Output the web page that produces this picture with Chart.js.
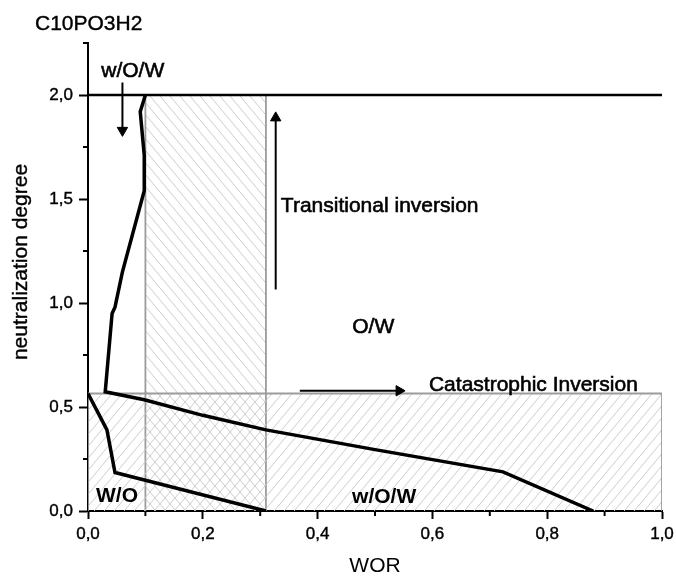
<!DOCTYPE html>
<html>
<head>
<meta charset="utf-8">
<script src="https://cdn.jsdelivr.net/npm/chart.js@4.4.1/dist/chart.umd.min.js"></script>
<style>
  html, body { margin: 0; padding: 0; background: #fff; }
  #wrap { width: 676px; height: 576px; position: relative; }
</style>
</head>
<body>
<div id="wrap"><canvas id="worChart"></canvas></div>
<script>
// Phase map C10PO3H2 : WOR vs neutralization degree

// outer boundary (O/W side)
const outerWor = [0.100, 0.091, 0.098, 0.098, 0.060, 0.047, 0.042, 0.030, 0.098, 0.200, 0.310, 0.500, 0.723, 0.880];
const outerNd  = [2.000, 1.920, 1.710, 1.540, 1.150, 0.980, 0.950, 0.573, 0.535, 0.460, 0.390, 0.295, 0.188, 0.000];

// inner boundary (W/O side)
const innerWor = [0.000, 0.016, 0.033, 0.047, 0.310];
const innerNd  = [0.565, 0.480, 0.390, 0.185, 0.000];

// reference line at degree 2.0
const topLineWor = [0, 1];
const topLineNd  = [2, 2];

// hatched zones
const transZoneWor = [0.10, 0.10, 0.31, 0.31];
const transZoneNd  = [0, 2.0, 2.0, 0];
const catZoneWor   = [0, 0, 1, 1];
const catZoneNd    = [0, 0.565, 0.565, 0];

// arrows (start, end)
const arrowDownWor  = [0.060, 0.060];
const arrowDownNd   = [2.060, 1.830];
const arrowUpWor    = [0.327, 0.327];
const arrowUpNd     = [1.065, 1.890];
const arrowRightWor = [0.369, 0.542];
const arrowRightNd  = [0.578, 0.578];

// ticks
const xMajorTicks = [0, 0.2, 0.4, 0.6, 0.8, 1.0];
const xTickLabels = ["0,0", "0,2", "0,4", "0,6", "0,8", "1,0"];
const yMajorTicks = [0, 0.5, 1.0, 1.5, 2.0];
const yTickLabels = ["0,0", "0,5", "1,0", "1,5", "2,0"];

// text labels inside the plot
const notes = [
  { text: "w/O/W", wor: 0.078, nd: 2.116, align: "center", bold: false },
  { text: "Transitional inversion", wor: 0.336, nd: 1.465, align: "left", bold: false },
  { text: "O/W", wor: 0.497, nd: 0.882, align: "center", bold: false },
  { text: "Catastrophic Inversion", wor: 0.594, nd: 0.607, align: "left", bold: false },
  { text: "W/O", wor: 0.0505, nd: 0.072, align: "center", bold: true },
  { text: "w/O/W", wor: 0.516, nd: 0.067, align: "center", bold: true }
];

const FONT = "'Liberation Sans', Arial, sans-serif";

const zip = (xs, ys) => xs.map((v, i) => ({ x: v, y: ys[i] }));
const findIdx = (arr, v) => arr.findIndex(m => Math.abs(m - v) < 1e-6);

function hatch(dir) {
  const w = 10, h = 12;
  const c = document.createElement("canvas");
  c.width = w; c.height = h;
  const g = c.getContext("2d");
  g.strokeStyle = "#cdcdcd";
  g.lineWidth = 1;
  g.beginPath();
  [-w, 0, w].forEach(dx => {
    if (dir === "/") { g.moveTo(dx, h); g.lineTo(dx + w, 0); }
    else { g.moveTo(dx, 0); g.lineTo(dx + w, h); }
  });
  g.stroke();
  return g.createPattern(c, "repeat");
}

function arrowSet(xs, ys, rot) {
  return {
    data: zip(xs, ys),
    showLine: true,
    borderColor: "#000",
    backgroundColor: "#000",
    borderWidth: 2,
    pointRadius: [0, 6],
    pointStyle: "triangle",
    rotation: [0, rot],
    pointBorderWidth: 1,
    pointBorderColor: "#000",
    pointBackgroundColor: "#000",
    order: 0
  };
}

const extras = {
  id: "extras",
  afterDraw(chart) {
    const { ctx, scales: { x, y } } = chart;
    ctx.save();
    // minor ticks
    ctx.strokeStyle = "#000";
    ctx.lineWidth = 2;
    x.ticks.forEach(t => {
      if (findIdx(xMajorTicks, t.value) >= 0) return;
      const px = x.getPixelForValue(t.value);
      ctx.beginPath(); ctx.moveTo(px, x.top); ctx.lineTo(px, x.top + 5); ctx.stroke();
    });
    y.ticks.forEach(t => {
      if (findIdx(yMajorTicks, t.value) >= 0) return;
      const py = y.getPixelForValue(t.value);
      ctx.beginPath(); ctx.moveTo(y.right, py); ctx.lineTo(y.right - 5, py); ctx.stroke();
    });

    ctx.fillStyle = "#000";
    ctx.strokeStyle = "#000";
    ctx.lineWidth = 0.6;
    ctx.textBaseline = "middle";
    notes.forEach(n => {
      ctx.font = (n.bold ? "bold " : "") + "21px " + FONT;
      ctx.textAlign = n.align;
      const px = x.getPixelForValue(n.wor), py = y.getPixelForValue(n.nd);
      ctx.fillText(n.text, px, py);
      if (!n.bold) ctx.strokeText(n.text, px, py);
    });

    // chart label top-left
    ctx.font = "21px " + FONT;
    ctx.textAlign = "left";
    ctx.fillText("C10PO3H2", 35, 24);
    ctx.lineWidth = 0.4;
    ctx.strokeText("C10PO3H2", 35, 24);

    // y axis title
    ctx.translate(21, 262);
    ctx.rotate(-Math.PI / 2);
    ctx.textAlign = "center";
    ctx.fillText("neutralization degree", 0, 0);
    ctx.strokeText("neutralization degree", 0, 0);
    ctx.restore();
  }
};

const ctx = document.getElementById("worChart").getContext("2d");

new Chart(ctx, {
  type: "scatter",
  data: {
    datasets: [
      {
        data: zip(outerWor, outerNd),
        showLine: true, borderColor: "#000", borderWidth: 3.5,
        pointRadius: 0, order: 0
      },
      {
        data: zip(innerWor, innerNd),
        showLine: true, borderColor: "#000", borderWidth: 3.5,
        pointRadius: 0, order: 0
      },
      {
        data: zip(topLineWor, topLineNd),
        showLine: true, borderColor: "#000", borderWidth: 2.5,
        pointRadius: 0, order: 1
      },
      arrowSet(arrowDownWor, arrowDownNd, 180),
      arrowSet(arrowUpWor, arrowUpNd, 0),
      arrowSet(arrowRightWor, arrowRightNd, 90),
      {
        data: zip(transZoneWor, transZoneNd),
        showLine: true, borderColor: "#9c9c9c", borderWidth: 1.8,
        backgroundColor: hatch("\\"), fill: "origin",
        pointRadius: 0, order: 3
      },
      {
        data: zip(catZoneWor, catZoneNd),
        showLine: true, borderColor: "#9c9c9c", borderWidth: 1.8,
        backgroundColor: hatch("/"), fill: "origin",
        pointRadius: 0, order: 2
      }
    ]
  },
  options: {
    responsive: true,
    maintainAspectRatio: false,
    animation: false,
    layout: { padding: { left: 0, top: 43, right: 14, bottom: 0 } },
    plugins: {
      legend: { display: false },
      tooltip: { enabled: false },
      title: { display: false }
    },
    scales: {
      x: {
        type: "linear",
        min: 0,
        max: 1,
        border: { color: "#000", width: 2 },
        grid: {
          drawOnChartArea: false,
          tickLength: 8,
          tickWidth: 2,
          tickColor: c => (c.tick && findIdx(xMajorTicks, c.tick.value) >= 0) ? "#000" : "rgba(0,0,0,0)"
        },
        ticks: {
          stepSize: 0.1,
          autoSkip: false,
          maxRotation: 0,
          padding: 5,
          color: "#000",
          textStrokeColor: "#000",
          textStrokeWidth: 0.4,
          font: { family: FONT, size: 17 },
          callback: v => {
            const i = findIdx(xMajorTicks, v);
            return i >= 0 ? xTickLabels[i] : "";
          }
        },
        title: {
          display: true,
          text: "WOR",
          color: "#000",
          font: { family: FONT, size: 21, lineHeight: 0.9 },
          padding: 0
        },
        afterFit: s => { s.height = 65; s.paddingLeft = 0; s.paddingRight = 0; }
      },
      y: {
        type: "linear",
        min: 0,
        max: 2.25,
        border: { color: "#000", width: 2 },
        grid: {
          drawOnChartArea: false,
          tickLength: 9,
          tickWidth: 2,
          tickColor: c => (c.tick && findIdx(yMajorTicks, c.tick.value) >= 0) ? "#000" : "rgba(0,0,0,0)"
        },
        ticks: {
          stepSize: 0.25,
          autoSkip: false,
          padding: 6,
          color: "#000",
          textStrokeColor: "#000",
          textStrokeWidth: 0.4,
          font: { family: FONT, size: 17 },
          callback: v => {
            const i = findIdx(yMajorTicks, v);
            return i >= 0 ? yTickLabels[i] : "";
          }
        },
        afterFit: s => { s.width = 88; }
      }
    }
  },
  plugins: [extras]
});
</script>
</body>
</html>
